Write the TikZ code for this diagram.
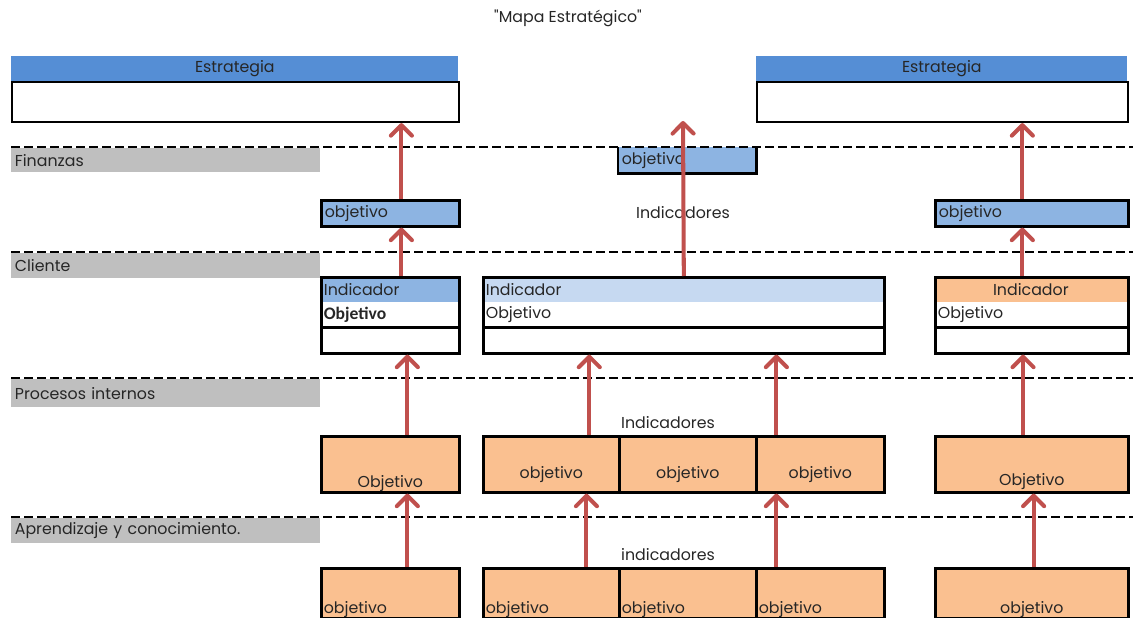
\documentclass[tikz,border=0pt]{standalone}
\usepackage{fontspec}
\setmainfont{Poppins}[Ligatures = TeXOff]
\newfontfamily\calibri{Carlito}
\usetikzlibrary{arrows.meta}
\definecolor{barra}{RGB}{85,142,213}
\definecolor{azul}{RGB}{141,180,226}
\definecolor{celeste}{RGB}{198,217,241}
\definecolor{naranja}{RGB}{250,192,144}
\definecolor{gris}{RGB}{191,191,191}
\definecolor{rojo}{RGB}{192,80,77}
\definecolor{texto}{RGB}{38,38,38}

\begin{document}
\begin{tikzpicture}[x = 0.02cm, y = -0.02cm, font = \fontsize{9}{11}\selectfont, text = texto,
    caja/.style 2 args = {rectangle, anchor = north west, inner xsep = 2pt, inner ysep = 0pt,
        minimum width = #1*0.02cm, minimum height = #2*0.02cm, text width = #1*0.02cm - 4pt},
    borde/.style = {draw = black, line width = 1.5pt},
    corte/.style = {dash pattern = on 5pt off 2.4pt, line width = 1.2pt},
    subir/.style = {-{Straight Barb[length = 6pt, width = 12pt, round]}, draw = rojo, line width = 2.3pt},
    pie/.style = {anchor = base west, inner sep = 2pt}]
    \useasboundingbox (0, 0) rectangle (1133, 618);
    \node (titulo) at (568, 18) {"Mapa Estratégico"};
    % estrategia
    \node[caja = {447}{25}, fill = barra, align = center] (elh) at (11, 56) {Estrategia};
    \node[caja = {447}{40}, draw = black, line width = 1.2pt] (elb) at (11, 81) {};
    \node[caja = {371}{25}, fill = barra, align = center] (erh) at (756, 56) {Estrategia};
    \node[caja = {371}{40}, draw = black, line width = 1.2pt] (erb) at (756, 81) {};
    % perspectivas
    \node[caja = {309}{24}, fill = gris] (g1) at (11, 148) {Finanzas};
    \node[caja = {309}{25}, fill = gris] (g2) at (11, 253) {Cliente};
    \node[caja = {309}{28}, fill = gris] (g3) at (11, 379) {Procesos internos};
    \node[caja = {309}{25}, fill = gris] (g4) at (11, 518) {Aprendizaje y conocimiento.};
    % finanzas
    \node[caja = {138}{26}, fill = azul, borde] (fl) at (320, 199) {objetivo};
    \node[caja = {138}{26}, fill = azul] (fm) at (618, 147) {objetivo};
    \draw[borde] (fm.north west) -- (fm.south west) -- (fm.south east) -- (fm.north east);
    \node[caja = {193}{26}, fill = azul, borde] (fr) at (934, 199) {objetivo};
    \node (ind1) at (683, 213) {Indicadores};
    % cliente
    \node[caja = {138}{25}, fill = azul] (clh) at (320, 277) {Indicador};
    \node[caja = {138}{25}] (clo) at (320, 302) {\calibri\fontsize{10}{12}\selectfont\bfseries Objetivo};
    \node[caja = {138}{76}, borde] (cl) at (320, 276) {};
    \draw[borde] (clo.south west) -- (clo.south east);
    \node[caja = {401}{25}, fill = celeste] (cmh) at (482, 277) {Indicador};
    \node[caja = {401}{25}] (cmo) at (482, 302) {Objetivo};
    \node[caja = {401}{76}, borde] (cm) at (482, 276) {};
    \draw[borde] (cmo.south west) -- (cmo.south east);
    \node[caja = {193}{25}, fill = naranja, align = center] (crh) at (934, 277) {Indicador};
    \node[caja = {193}{25}] (cro) at (934, 302) {Objetivo};
    \node[caja = {193}{76}, borde] (cr) at (934, 276) {};
    \draw[borde] (cro.south west) -- (cro.south east);
    % procesos internos
    \node (ind2) at (668, 423) {Indicadores};
    \node[caja = {138}{56}, fill = naranja, borde] (pl) at (320, 435) {};
    \node[anchor = base] (tpl) at ([yshift = 3.4pt]pl.south) {Objetivo};
    \node[caja = {136}{56}, fill = naranja, borde] (pm1) at (482, 435) {};
    \node[caja = {137}{56}, fill = naranja, borde] (pm2) at (618, 435) {};
    \node[caja = {128}{56}, fill = naranja, borde] (pm3) at (755, 435) {};
    \node[anchor = base] (tpm1) at ([yshift = 8.5pt]pm1.south) {objetivo};
    \node[anchor = base] (tpm2) at ([yshift = 8.5pt]pm2.south) {objetivo};
    \node[anchor = base] (tpm3) at ([yshift = 8.5pt]pm3.south) {objetivo};
    \node[caja = {193}{56}, fill = naranja, borde] (pr) at (934, 435) {};
    \node[anchor = base] (tpr) at ([yshift = 4.5pt]pr.south) {Objetivo};
    % aprendizaje
    \node (ind3) at (668, 555) {indicadores};
    \node[caja = {138}{50}, fill = naranja, borde] (al) at (320, 567) {};
    \node[pie] (tal) at ([yshift = 3.4pt]al.south west) {objetivo};
    \node[caja = {136}{50}, fill = naranja, borde] (am1) at (482, 567) {};
    \node[caja = {137}{50}, fill = naranja, borde] (am2) at (618, 567) {};
    \node[caja = {128}{50}, fill = naranja, borde] (am3) at (755, 567) {};
    \node[pie] (tam1) at ([yshift = 3.4pt]am1.south west) {objetivo};
    \node[pie] (tam2) at ([yshift = 3.4pt]am2.south west) {objetivo};
    \node[pie] (tam3) at ([yshift = 3.4pt]am3.south west) {objetivo};
    \node[caja = {193}{50}, fill = naranja, borde] (ar) at (934, 567) {};
    \node[anchor = base] (tar) at ([yshift = 3.4pt]ar.south) {objetivo};
    % lineas de corte
    \foreach \y in {147, 252, 378, 517}
        \draw[corte] (11, \y) -- (1133, \y);
    % flechas
    \coordinate (cima) at (683, 121);
    \draw[subir] ([xshift = 6.3pt]fl.north) -- ([xshift = 6.3pt]fl.north |- elb.south);
    \draw[subir] ([xshift = 6.3pt]cl.north) -- ([xshift = 6.3pt]fl.south);
    \draw[subir] ([xshift = 9.7pt]pl.north) -- ([xshift = 9.7pt]cl.south);
    \draw[subir] ([xshift = 9.7pt]al.north) -- ([xshift = 9.7pt]pl.south);
    \draw[subir] (cm.north) -- (cima);
    \draw[subir] ([xshift = 21.6pt]pm1.north) -- ([xshift = 21.6pt]pm1.north |- cm.south);
    \draw[subir] ([xshift = -25pt]pm3.north) -- ([xshift = -25pt]pm3.north |- cm.south);
    \draw[subir] ([xshift = 20pt]am1.north) -- ([xshift = 20pt]pm1.south);
    \draw[subir] ([xshift = -25pt]am3.north) -- ([xshift = -25pt]pm3.south);
    \draw[subir] ([xshift = -5.4pt]fr.north) -- ([xshift = -5.4pt]fr.north |- erb.south);
    \draw[subir] ([xshift = -5.4pt]cr.north) -- ([xshift = -5.4pt]fr.south);
    \draw[subir] ([xshift = -5pt]pr.north) -- ([xshift = -5pt]cr.south);
    \draw[subir] ([xshift = 1pt]ar.north) -- ([xshift = 1pt]pr.south);
\end{tikzpicture}
\end{document}
